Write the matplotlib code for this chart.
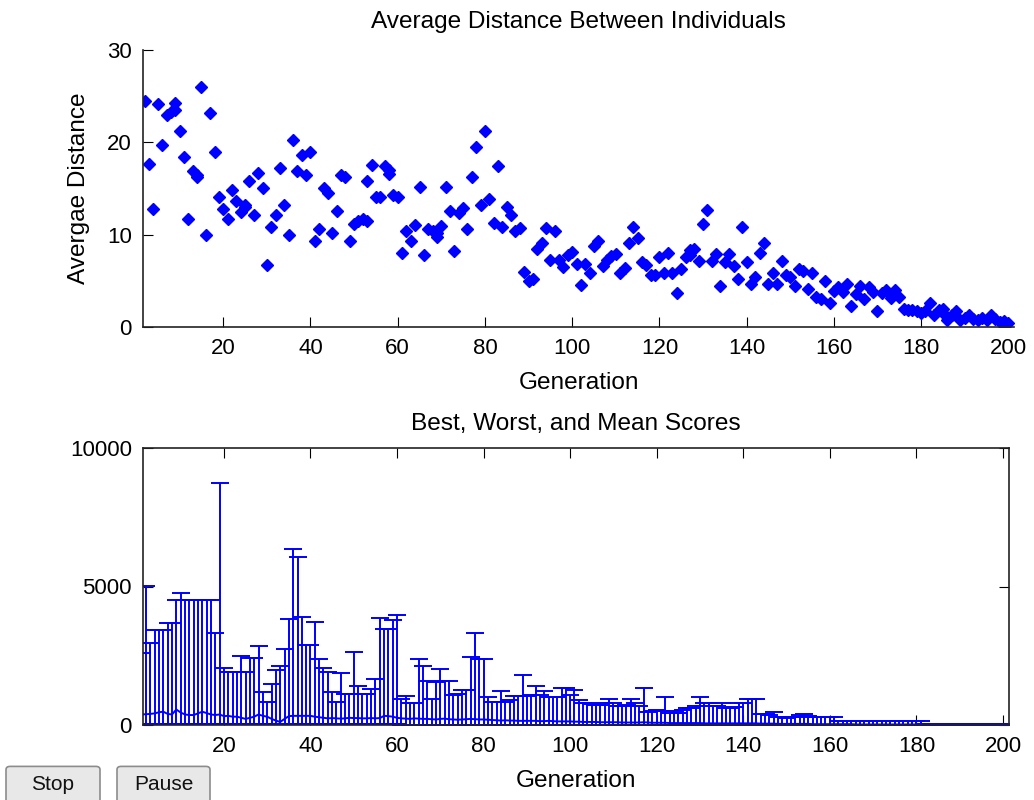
import matplotlib.pyplot as plt
from matplotlib.patches import FancyBboxPatch
import numpy as np

plt.rcParams['font.family'] = ['Liberation Sans', 'DejaVu Sans']

# top panel: average distance per generation
dist_gen = [2, 3, 4, 5, 6, 7, 8, 9, 9, 10, 11, 12, 13, 14, 14, 15, 16, 17, 18, 19,
            20, 21, 22, 23, 24, 25, 25, 26, 27, 28, 29, 30, 31, 32, 33, 34, 35, 36, 37, 38,
            39, 40, 41, 42, 43, 44, 45, 46, 47, 48, 49, 50, 51, 52, 53, 53, 54, 55, 56, 57,
            58, 58, 59, 60, 61, 62, 63, 64, 65, 66, 67, 68, 69, 69, 70, 71, 72, 73, 74, 75,
            76, 77, 78, 79, 80, 81, 82, 83, 84, 85, 86, 87, 88, 89, 90, 91, 92, 93, 94, 95,
            96, 97, 98, 99, 100, 101, 102, 103, 104, 105, 106, 107, 108, 109, 110, 111, 112, 113, 114, 115,
            116, 117, 118, 119, 120, 121, 122, 123, 124, 125, 126, 127, 127, 128, 129, 130, 131, 132, 133, 134,
            135, 136, 137, 138, 139, 140, 141, 142, 143, 144, 145, 146, 147, 148, 149, 150, 151, 152, 153, 154,
            155, 156, 157, 158, 159, 160, 161, 162, 163, 164, 165, 166, 167, 168, 169, 170, 171, 172, 173, 174,
            175, 176, 177, 178, 179, 180, 181, 182, 183, 184, 185, 185, 186, 187, 188, 189, 190, 191, 192, 193,
            194, 195, 196, 197, 198, 199, 199, 200]
avg_dist = [24.5, 17.6, 12.8, 24.1, 19.7, 23.0, 23.3, 23.5, 24.3, 21.2, 18.4, 11.7, 16.9, 16.5, 16.2, 26.0, 10.0, 23.2, 18.9, 14.1,
            12.8, 11.7, 14.8, 13.7, 12.5, 13.0, 13.2, 15.8, 12.1, 16.7, 15.0, 6.7, 10.8, 12.1, 17.2, 13.2, 10.0, 20.2, 16.9, 18.6,
            16.5, 18.9, 9.3, 10.6, 15.0, 14.5, 10.2, 12.6, 16.5, 16.2, 9.3, 11.2, 11.5, 11.7, 11.5, 15.8, 17.5, 14.1, 14.1, 17.4,
            17.0, 16.6, 14.3, 14.1, 8.0, 10.4, 9.3, 11.1, 15.2, 7.8, 10.6, 10.4, 10.2, 9.7, 10.9, 15.2, 12.6, 8.2, 12.3, 12.9,
            10.6, 16.2, 19.5, 13.2, 21.2, 13.9, 11.3, 17.4, 10.8, 13.0, 12.1, 10.4, 10.7, 6.0, 5.0, 5.2, 8.5, 9.1, 10.7, 7.3,
            10.4, 7.3, 6.5, 7.8, 8.1, 6.8, 4.6, 6.8, 5.8, 8.8, 9.3, 6.6, 7.3, 7.7, 7.9, 5.8, 6.4, 9.1, 10.8, 9.6,
            7.0, 6.7, 5.6, 5.6, 7.6, 5.8, 8.0, 5.8, 3.7, 6.3, 7.6, 7.8, 8.3, 8.5, 7.2, 11.2, 12.7, 7.2, 7.9, 4.4,
            7.0, 7.9, 6.6, 5.2, 10.8, 7.0, 4.7, 5.4, 8.0, 9.1, 4.7, 5.9, 4.7, 7.2, 5.6, 5.4, 4.4, 6.3, 6.1, 4.1,
            5.9, 3.3, 3.0, 5.0, 2.6, 3.9, 4.3, 3.8, 4.7, 2.3, 3.6, 4.4, 3.0, 4.3, 3.8, 1.7, 3.7, 4.0, 3.1, 4.0,
            3.3, 2.0, 1.8, 1.8, 1.7, 1.5, 1.7, 2.6, 1.3, 1.8, 2.0, 1.5, 0.8, 1.3, 1.7, 0.8, 1.0, 1.3, 0.9, 0.8,
            1.0, 0.8, 1.3, 0.9, 0.5, 0.6, 0.2, 0.4]

# bottom panel: best / mean / worst score per generation
generations = list(range(1, 201))
worst = [2600, 5030, 2960, 3430, 3430, 3430, 3680, 3680, 4510, 4760,
         4510, 4510, 4510, 4510, 4510, 4510, 4510, 3320, 8720, 2060,
         1925, 1925, 1925, 2490, 1925, 2430, 2430, 2850, 1200, 840,
         1480, 1985, 2130, 2730, 3815, 6340, 6050, 3890, 2890, 2890,
         3730, 2400, 2050, 1925, 1200, 840, 1880, 1120, 1120, 2650,
         1410, 1120, 1120, 1300, 1650, 3870, 3450, 3450, 3790, 3970,
         930, 1050, 790, 790, 2370, 2130, 1600, 930, 1570, 2010,
         1600, 1600, 1080, 1120, 1270, 1270, 2440, 3310, 2370, 2370,
         1000, 840, 840, 1230, 840, 900, 1050, 1050, 1790, 1050,
         1100, 1410, 1100, 1230, 1000, 1000, 1000, 1350, 1350, 1080,
         1270, 900, 800, 790, 750, 730, 730, 800, 930, 790,
         700, 700, 730, 930, 800, 700, 1350, 480, 500, 550,
         500, 1000, 420, 500, 450, 550, 600, 600, 700, 1000,
         800, 790, 700, 670, 790, 600, 600, 650, 790, 800,
         930, 930, 930, 400, 400, 350, 480, 300, 300, 250,
         300, 300, 350, 400, 330, 280, 280, 280, 280, 280,
         280, 160, 160, 160, 160, 160, 160, 160, 160, 160,
         160, 160, 160, 160, 160, 160, 160, 160, 160, 160,
         160, 40, 40, 40, 40, 40, 40, 40, 40, 40,
         40, 40, 40, 40, 40, 40, 40, 40, 40, 40]
mean = [380, 390, 400, 420, 460, 480, 400, 380, 560, 450,
        380, 360, 360, 420, 480, 430, 380, 360, 380, 320,
        330, 300, 300, 260, 220, 260, 300, 380, 330, 300,
        220, 160, 110, 220, 320, 330, 330, 330, 330, 330,
        300, 280, 260, 240, 250, 240, 230, 240, 260, 250,
        250, 240, 240, 250, 240, 250, 330, 320, 300, 260,
        240, 230, 220, 240, 230, 220, 220, 210, 200, 220,
        230, 210, 200, 190, 200, 210, 220, 210, 200, 200,
        190, 180, 170, 160, 170, 160, 160, 150, 150, 150,
        150, 150, 140, 140, 150, 140, 130, 130, 130, 130,
        120, 120, 110, 110, 110, 110, 100, 100, 100, 100,
        100, 90, 90, 90, 90, 90, 100, 90, 80, 80,
        80, 80, 70, 70, 70, 70, 70, 70, 70, 70,
        60, 60, 60, 60, 60, 60, 60, 60, 60, 60,
        60, 60, 60, 50, 50, 50, 50, 40, 40, 40,
        40, 40, 40, 40, 40, 30, 30, 30, 30, 30,
        30, 30, 30, 30, 30, 20, 20, 20, 20, 20,
        20, 20, 20, 20, 20, 20, 20, 20, 20, 20,
        10, 10, 10, 10, 10, 10, 10, 10, 10, 10,
        10, 10, 10, 10, 10, 10, 10, 10, 10, 10]
best_block = [30, 25, 20, 15, 10, 8, 5, 3, 2, 1]   # one value per 20 generations
best = np.repeat(best_block, 20)

fig = plt.figure(figsize=(10.34, 8), dpi=100)
fs = 16     # tick labels
fl = 17.6   # titles and axis labels

# --- top: Average Distance ---
ax1 = fig.add_axes([143/1034, 1 - 327/800, (1014 - 143)/1034, 277/800])
ax1.plot(dist_gen, avg_dist, 'D', color='blue', ms=6, mec='blue')
ax1.set_xlim(1.6, 201.3)
ax1.set_ylim(0, 30)
ax1.set_xticks([20, 40, 60, 80, 100, 120, 140, 160, 180, 200])
ax1.set_yticks([0, 10, 20, 30])
ax1.spines['top'].set_visible(False)
ax1.spines['right'].set_visible(False)
ax1.tick_params(direction='in', length=7, labelsize=fs, pad=8)
ax1.set_title('Average Distance Between Individuals', fontsize=fl, pad=16)
ax1.set_xlabel('Generation', fontsize=fl, labelpad=9)
ax1.set_ylabel('Avergae Distance', fontsize=fl, labelpad=12)

# --- bottom: Best, Worst, and Mean Scores ---
ax2 = fig.add_axes([143/1034, 1 - 725/800, (1009 - 143)/1034, 277/800])
mean_arr = np.array(mean)
lower = mean_arr - best
upper = np.array(worst) - mean_arr
ax2.errorbar(generations, mean, yerr=[lower, upper], color='blue', lw=1.4,
             elinewidth=1.4, capsize=6.3, capthick=1.4)
ax2.set_xlim(1.3, 201.4)
ax2.set_ylim(0, 10000)
ax2.set_xticks([20, 40, 60, 80, 100, 120, 140, 160, 180, 200])
ax2.set_yticks([0, 5000, 10000])
ax2.tick_params(direction='in', length=7, labelsize=fs, pad=8,
                top=True, right=True)
ax2.set_title('Best, Worst, and Mean Scores', fontsize=fl, pad=13)
ax2.set_xlabel('Generation', fontsize=fl, labelpad=9)

for a in (ax1, ax2):
    for s in a.spines.values():
        s.set_linewidth(1.2)
        s.set_color('#222222')

# Stop / Pause buttons
for x0, x1, label in [(6, 100, 'Stop'), (117, 210, 'Pause')]:
    box = FancyBboxPatch((x0/1034, -0.01), (x1 - x0)/1034, 0.052,
                         boxstyle='round,pad=0,rounding_size=0.004',
                         transform=fig.transFigure, facecolor='#e8e8e8',
                         edgecolor='#8c8c8c', lw=1.2)
    fig.add_artist(box)
    fig.text((x0 + x1) / 2 / 1034, 0.019, label, ha='center', va='center',
             fontsize=15, color='#111111')

fig.savefig('out.png', dpi=100)
